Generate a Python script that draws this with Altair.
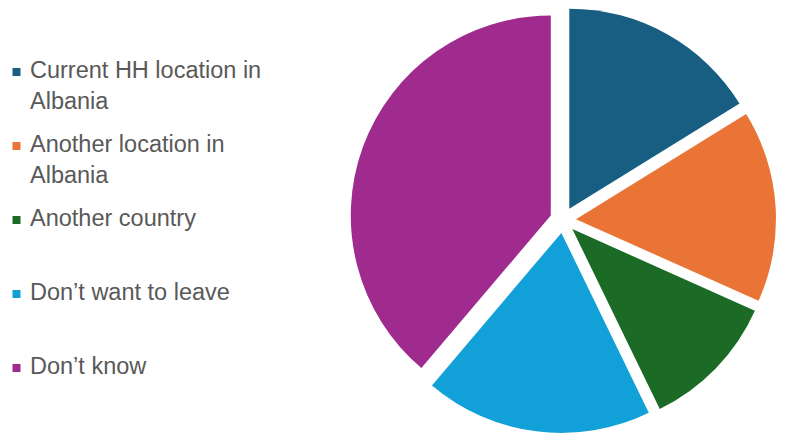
import altair as alt
import pandas as pd

categories = [
    "Current HH location in\nAlbania",
    "Another location in\nAlbania",
    "Another country",
    "Don’t want to leave",
    "Don’t know",
]
shares = [16.2, 15.5, 11.1, 18.4, 38.8]
colors = ["#175E82", "#E97435", "#1B6B27", "#12A0D8", "#9F2B8F"]

df = pd.DataFrame({"category": categories, "share": shares, "order": list(range(len(categories)))})

color_scale = alt.Scale(domain=categories, range=colors)

# Legend panel
leg_base = alt.Chart(df).encode(
    y=alt.Y("category:N", sort=categories, axis=None,
            scale=alt.Scale(range=[64, 360], padding=0)),
)
leg_sym = leg_base.mark_square(size=64, opacity=1).encode(
    x=alt.value(8.5),
    color=alt.Color("category:N", scale=color_scale, legend=None),
)
leg_txt = leg_base.mark_text(
    align="left", baseline="alphabetic", dy=6, fontSize=23.5,
    font="Arial, Liberation Sans", color="#595959", lineBreak="\n", lineHeight=31,
).encode(x=alt.value(22), text="category:N")
legend = alt.layer(leg_sym, leg_txt).properties(width=330, height=418)

# Exploded pie panel
pie = (
    alt.Chart(df)
    .transform_joinaggregate(total="sum(share)")
    .transform_window(cum="sum(share)", sort=[alt.SortField("order")], frame=[None, 0])
    .transform_calculate(
        t2="2*PI*datum.cum/datum.total",
        t1="2*PI*(datum.cum-datum.share)/datum.total",
    )
    .transform_calculate(mid="(datum.t1+datum.t2)/2")
    .transform_calculate(cx="225 + 13*sin(datum.mid)", cy="212 - 13*cos(datum.mid)")
    .mark_arc(radius=200)
    .encode(
        theta=alt.Theta("t1:Q", scale=None, stack=False),
        theta2="t2:Q",
        x=alt.X("cx:Q", scale=None, axis=None),
        y=alt.Y("cy:Q", scale=None, axis=None),
        color=alt.Color("category:N", scale=color_scale, legend=None),
    )
    .properties(width=440, height=418)
)

chart = (
    alt.hconcat(legend, pie, spacing=0)
    .properties(padding=0)
    .configure_view(stroke=None)
)
chart.save("out.html", embed_options={"renderer": "svg", "actions": False})
